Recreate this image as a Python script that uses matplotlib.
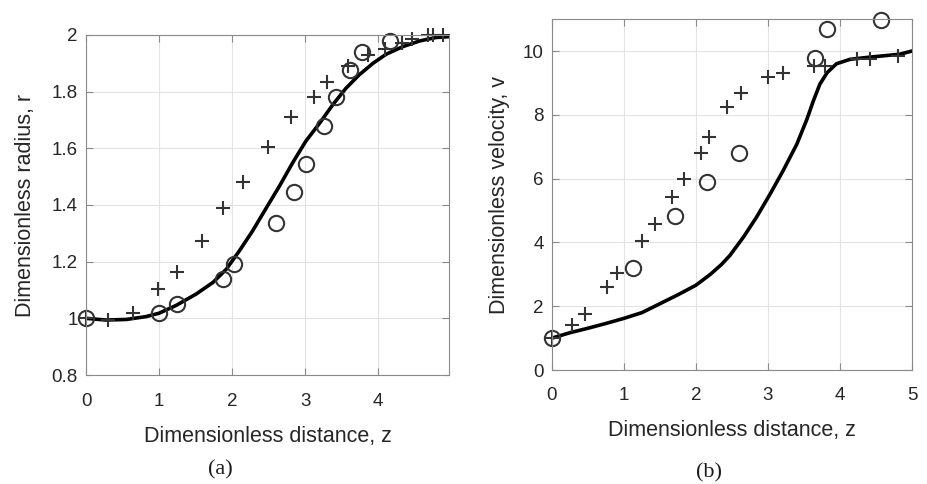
import matplotlib.pyplot as plt

# (a) radius: model curve and two sets of measured points
za_curve = [0.0, 0.27, 0.55, 0.82, 1.0, 1.23, 1.51, 1.74, 1.92, 2.10, 2.28, 2.47,
            2.65, 2.83, 3.01, 3.20, 3.38, 3.56, 3.74, 3.93, 4.11, 4.34, 4.57, 4.79, 4.97]
ra_curve = [1.0, 0.994, 0.996, 1.006, 1.018, 1.045, 1.086, 1.127, 1.173, 1.238,
            1.308, 1.39, 1.467, 1.549, 1.625, 1.689, 1.754, 1.812, 1.859, 1.90,
            1.932, 1.959, 1.979, 1.991, 1.994]

za_plus = [0.0, 0.30, 0.64, 0.99, 1.25, 1.59, 1.88, 2.15, 2.49, 2.81, 3.12, 3.30,
           3.59, 3.86, 4.10, 4.33, 4.47, 4.68, 4.75, 4.89]
ra_plus = [1.0, 0.993, 1.02, 1.105, 1.165, 1.274, 1.39, 1.48, 1.605, 1.71, 1.78,
           1.835, 1.89, 1.93, 1.95, 1.97, 1.986, 2.0, 2.0, 2.0]

za_circ = [0.0, 1.00, 1.25, 1.88, 2.03, 2.60, 2.85, 3.01, 3.26, 3.42, 3.62, 3.78, 4.16]
ra_circ = [1.0, 1.02, 1.05, 1.14, 1.193, 1.337, 1.445, 1.545, 1.68, 1.78, 1.875,
           1.94, 1.98]

# (b) velocity
zb_curve = [0.0, 0.25, 0.5, 0.75, 1.0, 1.25, 1.5, 1.75, 2.0, 2.2, 2.35, 2.47, 2.66,
            2.84, 3.03, 3.21, 3.40, 3.54, 3.63, 3.72, 3.82, 3.95, 4.14, 4.42, 4.56,
            4.83, 5.0]
vb_curve = [1.0, 1.17, 1.31, 1.46, 1.62, 1.80, 2.08, 2.36, 2.66, 3.0, 3.3, 3.59,
            4.17, 4.79, 5.52, 6.25, 7.08, 7.86, 8.44, 8.96, 9.32, 9.60, 9.74, 9.81,
            9.84, 9.9, 10.0]

zb_plus = [0.0, 0.28, 0.46, 0.76, 0.90, 1.25, 1.43, 1.67, 1.83, 2.07, 2.18, 2.43,
           2.62, 3.0, 3.21, 3.64, 3.79, 4.24, 4.42, 4.81]
vb_plus = [1.0, 1.41, 1.75, 2.59, 3.03, 4.03, 4.59, 5.41, 6.0, 6.81, 7.31, 8.25,
           8.69, 9.19, 9.31, 9.53, 9.53, 9.75, 9.75, 9.84]

zb_circ = [0.0, 1.13, 1.71, 2.15, 2.60, 3.65, 3.82, 4.57]
vb_circ = [1.0, 3.19, 4.84, 5.88, 6.81, 9.78, 10.69, 10.97]

plt.rcParams['font.family'] = ['Liberation Sans', 'DejaVu Sans']

fig = plt.figure(figsize=(9.28, 4.84), dpi=100)
ax1 = fig.add_axes([0.0927, 0.2252, 0.391, 0.7025])
ax2 = fig.add_axes([0.5948, 0.2355, 0.388, 0.725])

mk = dict(linestyle='none', color='#333333', mew=1.5, clip_on=False)


def style(ax):
    ax.grid(True, color='#e3e3e3', linewidth=0.8)
    ax.set_axisbelow(True)
    for s in ax.spines.values():
        s.set_color('#8a8a8a')
        s.set_linewidth(0.8)
    ax.tick_params(direction='in', length=5, width=0.8, color='#8a8a8a',
                   labelsize=13.5, labelcolor='#262626', top=True, right=True)
    ax.tick_params(axis='y', pad=6)


ax1.plot(za_curve, ra_curve, color='black', linewidth=2.6)
ax1.plot(za_plus, ra_plus, marker='+', markersize=10, **mk)
ax1.plot(za_circ, ra_circ, marker='o', mfc='none', markersize=11, **mk)
ax1.set_xlim(0, 4.97)
ax1.set_ylim(0.8, 2.0)
ax1.set_xticks([0, 1, 2, 3, 4])
ax1.set_yticks([0.8, 1.0, 1.2, 1.4, 1.6, 1.8, 2.0])
ax1.set_yticklabels(['0.8', '1', '1.2', '1.4', '1.6', '1.8', '2'])
style(ax1)
ax1.tick_params(axis='x', pad=13)
ax1.set_xlabel('Dimensionless distance, z', fontsize=15.5, color='#262626', labelpad=11.5)
ax1.set_ylabel('Dimensionless radius, r', fontsize=15.5, color='#262626', labelpad=11)

ax2.plot(zb_curve, vb_curve, color='black', linewidth=2.6)
ax2.plot(zb_plus, vb_plus, marker='+', markersize=10, **mk)
ax2.plot(zb_circ, vb_circ, marker='o', mfc='none', markersize=11, **mk)
ax2.set_xlim(0, 5)
ax2.set_ylim(0, 11)
ax2.set_xticks([0, 1, 2, 3, 4, 5])
ax2.set_yticks([0, 2, 4, 6, 8, 10])
style(ax2)
ax2.tick_params(axis='x', pad=12)
ax2.set_xlabel('Dimensionless distance, z', fontsize=15.5, color='#262626', labelpad=12)
ax2.set_ylabel('Dimensionless velocity, v', fontsize=15.5, color='#262626', labelpad=9)

fig.text(220 / 928, 1 - 470 / 484, '(a)', family='Liberation Serif', fontsize=16,
         ha='center', va='center', color='#1a1a1a')
fig.text(709 / 928, 1 - 473 / 484, '(b)', family='Liberation Serif', fontsize=16,
         ha='center', va='center', color='#1a1a1a')

fig.savefig('out.png', dpi=100)
